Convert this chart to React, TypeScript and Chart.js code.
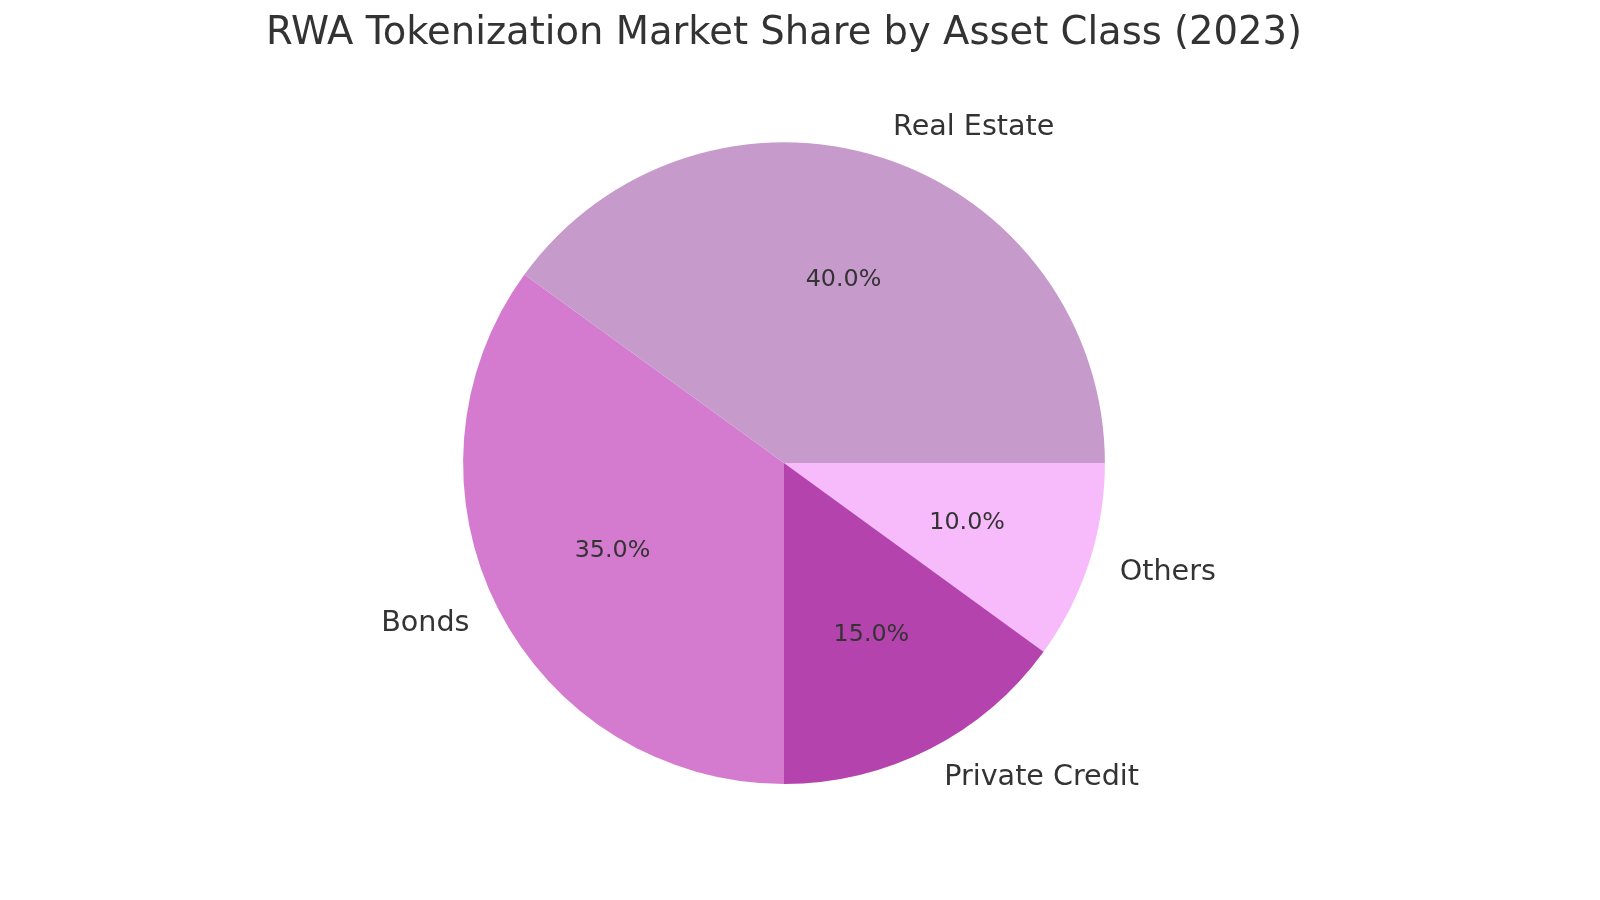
import React, { useEffect, useRef } from 'react';
import { Chart, registerables, Plugin } from 'chart.js';

Chart.register(...registerables);

const categories = ['Real Estate', 'Bonds', 'Private Credit', 'Others'];
const shares = [40, 35, 15, 10];
const sliceColors = ['#c69acb', '#d47bd0', '#b443ae', '#f7bbfb'];

const FONT = '"DejaVu Sans", sans-serif';
const TEXT_COLOR = '#333333';

// matplotlib draws counter-clockwise from 3 o'clock; Chart.js goes clockwise,
// so feed the slices reversed and start at 3 o'clock
const order = categories.map((_, i) => categories.length - 1 - i);

const pieLabels: Plugin<'pie'> = {
  id: 'pieLabels',
  afterDatasetsDraw(chart) {
    const ctx = chart.ctx;
    const meta = chart.getDatasetMeta(0);
    const values = chart.data.datasets[0].data as number[];
    const total = values.reduce((a, b) => a + b, 0);
    ctx.save();
    ctx.fillStyle = TEXT_COLOR;
    ctx.textBaseline = 'middle';
    meta.data.forEach((el: any, i: number) => {
      const { x, y, startAngle, endAngle, outerRadius } = el.getProps(
        ['x', 'y', 'startAngle', 'endAngle', 'outerRadius'],
        true
      );
      const mid = (startAngle + endAngle) / 2;
      const cos = Math.cos(mid);
      const sin = Math.sin(mid);

      // category label outside
      ctx.font = `28.6px ${FONT}`;
      ctx.textAlign = cos >= 0 ? 'left' : 'right';
      ctx.fillText(
        chart.data.labels![i] as string,
        x + cos * outerRadius * 1.1,
        y + sin * outerRadius * 1.1
      );

      // percentage inside
      ctx.font = `23.8px ${FONT}`;
      ctx.textAlign = 'center';
      const pct = ((values[i] / total) * 100).toFixed(1) + '%';
      ctx.fillText(pct, x + cos * outerRadius * 0.6, y + sin * outerRadius * 0.6);
    });
    ctx.restore();
  },
};

const PieChart: React.FC = () => {
  const chartRef = useRef<HTMLCanvasElement>(null);
  const chartInstance = useRef<Chart | null>(null);

  useEffect(() => {
    if (!chartRef.current) return;
    document.body.style.margin = '0';
    if (chartInstance.current) chartInstance.current.destroy();

    chartInstance.current = new Chart(chartRef.current, {
      type: 'pie',
      data: {
        labels: order.map(i => categories[i]),
        datasets: [
          {
            data: order.map(i => shares[i]),
            backgroundColor: order.map(i => sliceColors[i]),
            borderWidth: 0,
          },
        ],
      },
      options: {
        animation: false,
        responsive: true,
        maintainAspectRatio: false,
        rotation: 90,
        layout: {
          padding: { top: 11, bottom: 116, left: 0, right: 32 },
        },
        plugins: {
          legend: { display: false },
          tooltip: { enabled: false },
          title: {
            display: true,
            text: 'RWA Tokenization Market Share by Asset Class (2023)',
            color: TEXT_COLOR,
            font: { family: FONT, size: 38.5, weight: 'normal' },
            padding: { top: 0, bottom: 85 },
          },
        },
      },
      plugins: [pieLabels],
    });

    return () => {
      if (chartInstance.current) {
        chartInstance.current.destroy();
        chartInstance.current = null;
      }
    };
  }, []);

  return (
    <div style={{ width: 1600, height: 900, background: '#fff' }}>
      <canvas ref={chartRef}></canvas>
    </div>
  );
};

export default function App() {
  return <PieChart />;
}
